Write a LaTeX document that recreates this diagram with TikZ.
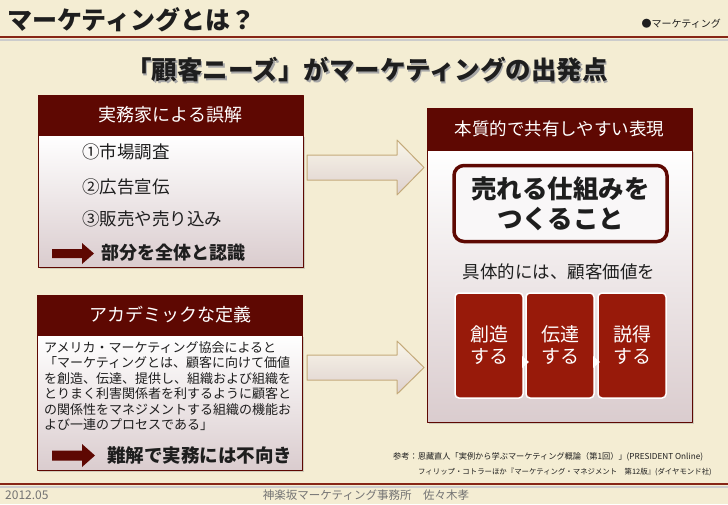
\documentclass[tikz,border=0pt]{standalone}
\usepackage{fontspec}
\setmainfont{Noto Sans CJK JP}
\usetikzlibrary{shadows}
\definecolor{paper}{RGB}{244,237,211}
\definecolor{maroon}{RGB}{94,8,2}
\definecolor{brick}{RGB}{152,26,10}
\definecolor{rulered}{RGB}{135,38,22}
\definecolor{tan}{RGB}{196,170,122}
\definecolor{mauve}{RGB}{218,204,206}
\definecolor{ink}{RGB}{30,30,30}

\begin{document}
\begin{tikzpicture}[x=1pt,y=-1pt,line join=round,
  hdr/.style={fill=maroon,draw=maroon,text=white,minimum width=265,minimum height=40,inner sep=0,font=\fontsize{18}{20}\selectfont},
  panel/.style={draw=maroon,line width=0.8,top color=white,bottom color=mauve,minimum width=265,inner sep=0,
    drop shadow={opacity=0.3,shadow xshift=1.5pt,shadow yshift=-1.5pt}},
  item/.style={anchor=west,inner sep=0,text=ink,font=\fontsize{17.5}{20}\selectfont},
  flow/.style={fill=brick,draw=white,line width=1.5,rounded corners=4,minimum width=68,minimum height=105,
    inner sep=0,text=white,align=center,font=\fontsize{19}{22}\selectfont},
  bigarrow/.style={draw=tan,line width=1,top color=paper!50!white,bottom color=mauve!85!paper},
  refline/.style={anchor=west,inner sep=0,text=ink},
  rulebar/.style={rulered,line width=2}]
\fill[paper] (0,0) rectangle (728,504);
\useasboundingbox (0,0) rectangle (728,504);
% heading
\node[anchor=west,inner sep=0,text=ink,font=\fontsize{25}{28}\selectfont\bfseries] (title) at (7,20) {マーケティングとは？};
\node[anchor=east,inner sep=0,text=ink,font=\fontsize{10}{12}\selectfont] (tag) at (721,24) {●マーケティング};
\draw[black!20,line width=2] (0,39.5) -- (728,39.5);
\draw[rulebar] (0,37) -- (728,37);
\node[text=black!35,font=\fontsize{25.5}{28}\selectfont\bfseries] at (368.5,71.5) {「顧客ニーズ」がマーケティングの出発点};
\node[text=ink,font=\fontsize{25.5}{28}\selectfont\bfseries] (lead) at (367,70) {「顧客ニーズ」がマーケティングの出発点};
% left top box
\node[panel,minimum height=132,anchor=north] (errbody) at (170.5,135) {};
\node[hdr] (errhdr) at (170.5,115) {実務家による誤解};
\node[item] (i1) at (82,152) {①市場調査};
\node[item] (i2) at (82,187) {②広告宣伝};
\node[item] (i3) at (82,219) {③販売や売り込み};
\fill[maroon] (52,249) -- (82,249) -- (82,243) -- (94,253.5) -- (82,264) -- (82,258) -- (52,258) -- cycle;
\node[item,font=\fontsize{18}{20}\selectfont\bfseries] (part) at (101,253) {部分を全体と認識};
% left bottom box
\node[panel,minimum height=135,anchor=north] (defbody) at (170,335) {};
\node[hdr] (defhdr) at (170,315) {アカデミックな定義};
\node[anchor=north west,inner sep=0,align=left,text=ink,font=\fontsize{13}{15.5}\selectfont] (deftext) at (44,341)
  {アメリカ・マーケティング協会によると\\「マーケティングとは、顧客に向けて価値\\を創造、伝達、提供し、組織および組織を\\とりまく利害関係者を利するように顧客と\\の関係性をマネジメントする組織の機能お\\よび一連のプロセスである」};
\fill[maroon] (52,450.5) -- (82,450.5) -- (82,444) -- (95,455.5) -- (82,467) -- (82,460.5) -- (52,460.5) -- cycle;
\node[item,font=\fontsize{18.5}{20}\selectfont\bfseries] (hard) at (107,455) {難解で実務には不向き};
% arrows
\draw[bigarrow] (307,155) -- (397,155) -- (397,140) -- (424,167.5) -- (397,195) -- (397,180) -- (307,180) -- cycle;
\draw[bigarrow] (307,355) -- (397,355) -- (397,341) -- (424,367.5) -- (397,394) -- (397,380) -- (307,380) -- cycle;
% right box
\node[panel,minimum height=272,anchor=north] (corebody) at (559.5,150) {};
\node[hdr,minimum height=42,font=\fontsize{17.5}{20}\selectfont] (corehdr) at (559.5,129) {本質的で共有しやすい表現};
\node[draw=maroon,line width=3.5,rounded corners=10,fill=white!85!mauve,minimum width=213,minimum height=76,inner sep=0,
  align=center,text=ink,font=\fontsize{25.5}{30}\selectfont\bfseries] (sell) at (560.5,203.5) {売れる仕組みを\\つくること};
\node[text=ink,font=\fontsize{17.5}{20}\selectfont] (value) at (559,272) {具体的には、顧客価値を};
\node[flow] (create) at (489,345.5) {創造\\する};
\node[flow] (convey) at (560,345.5) {伝達\\する};
\node[flow] (persuade) at (632,345.5) {説得\\する};
\fill[white] (522,356) -- (529,362) -- (522,368) -- cycle;
\fill[white] (593,356) -- (600,362) -- (593,368) -- cycle;
% references
\node[refline,font=\fontsize{8.2}{10}\selectfont] (ref1) at (393,457)
  {参考：恩藏直人「実例から学ぶマーケティング概論（第1回）」(PRESIDENT Online)};
\node[refline,font=\fontsize{7.4}{10}\selectfont] (ref2) at (418,472)
  {フィリップ・コトラーほか『マーケティング・マネジメント　第12版』(ダイヤモンド社)};
% footer
\draw[black!20,line width=2] (0,486.5) -- (728,486.5);
\draw[rulebar] (0,484) -- (728,484);
\node[anchor=west,inner sep=0,text=black!55,font=\fontsize{12}{13}\selectfont] (date) at (5,495) {2012.05};
\node[text=black!55,font=\fontsize{11.5}{12}\selectfont] (office) at (366,495) {神楽坂マーケティング事務所　佐々木孝};
\end{tikzpicture}
\end{document}
